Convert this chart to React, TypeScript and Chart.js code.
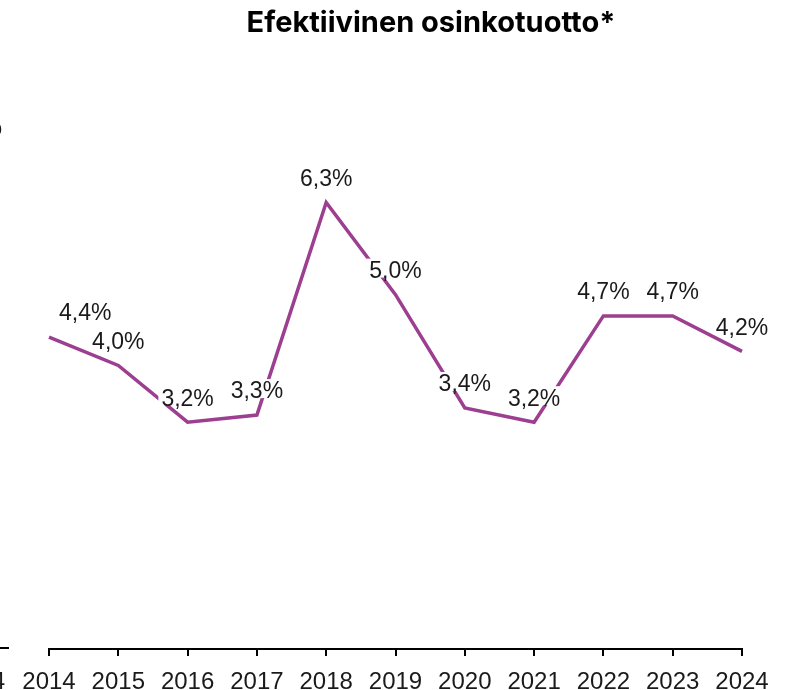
import React, { useEffect, useRef } from "react";
import { Chart, registerables } from "chart.js";

Chart.register(...registerables);

const years = ["2014", "2015", "2016", "2017", "2018", "2019", "2020", "2021", "2022", "2023", "2024"];
const yieldValues = [4.4, 4.0, 3.2, 3.3, 6.3, 5.0, 3.4, 3.2, 4.7, 4.7, 4.2];
const titleText = "Efektiivinen osinkotuotto*";

const LINE_COLOR = "#9c3f90";
const TEXT_COLOR = "#1a1a1a";
const LABEL_FONT = '23px "Liberation Sans", Arial, sans-serif';

const formatPct = (v: number) => v.toFixed(1).replace(".", ",") + "%";

const labelsPlugin = {
  id: "valueLabels",
  afterDatasetsDraw(chart: any) {
    const ctx = chart.ctx;
    const meta = chart.getDatasetMeta(0);
    const area = chart.chartArea;
    ctx.save();
    ctx.font = LABEL_FONT;
    ctx.textBaseline = "middle";
    ctx.textAlign = "center";
    meta.data.forEach((pt: any, i: number) => {
      const txt = formatPct(yieldValues[i]);
      const w = ctx.measureText(txt).width;
      let cx = pt.x;
      const minLeft = area.left + 10;
      if (cx - w / 2 < minLeft) cx = minLeft + w / 2;
      const cy = pt.y - 23;
      ctx.fillStyle = "#ffffff";
      ctx.fillRect(cx - w / 2 - 3, cy - 13, w + 6, 19);
      ctx.fillStyle = TEXT_COLOR;
      ctx.fillText(txt, cx, cy);
    });
    ctx.restore();
  },
};

const decorPlugin = {
  id: "decor",
  afterDraw(chart: any) {
    const ctx = chart.ctx;
    ctx.save();
    ctx.fillStyle = "#000000";
    ctx.font = 'bold 29px Inter, "Liberation Sans", sans-serif';
    ctx.textAlign = "center";
    ctx.textBaseline = "alphabetic";
    ctx.fillText(titleText, 431, 32);
    // fragment of neighbouring chart at the left edge
    ctx.strokeStyle = "#000000";
    ctx.lineWidth = 2;
    ctx.beginPath();
    ctx.moveTo(0, 648);
    ctx.lineTo(9, 648);
    ctx.stroke();
    ctx.fillStyle = TEXT_COLOR;
    ctx.font = '24px "Liberation Sans", Arial, sans-serif';
    ctx.textAlign = "right";
    ctx.textBaseline = "middle";
    ctx.fillText("2024", 5, 682);
    ctx.fillText("%", 2, 128);
    ctx.restore();
  },
};

export default function App() {
  const ref = useRef<HTMLCanvasElement | null>(null);
  useEffect(() => {
    if (!ref.current) return;
    const chart = new Chart(ref.current, {
      type: "line",
      data: {
        labels: years,
        datasets: [
          {
            data: yieldValues,
            borderColor: LINE_COLOR,
            borderWidth: 3.5,
            pointRadius: 0,
            tension: 0,
            fill: false,
          },
        ],
      },
      options: {
        responsive: false,
        animation: false,
        events: [],
        layout: { padding: { left: 49, right: 58, top: 82, bottom: 0 } },
        plugins: {
          legend: { display: false },
          title: { display: false },
          tooltip: { enabled: false },
        },
        scales: {
          x: {
            offset: false,
            grid: {
              display: true,
              drawOnChartArea: false,
              drawTicks: true,
              tickLength: 7,
              color: "#000000",
              lineWidth: 2,
            },
            border: { display: true, color: "#000000", width: 2 },
            ticks: {
              color: TEXT_COLOR,
              font: { family: '"Liberation Sans", Arial, sans-serif', size: 24 },
              padding: 12,
              maxRotation: 0,
              autoSkip: false,
            },
            afterFit: (scale: any) => {
              scale.height = 61;
            },
          },
          y: {
            display: false,
            min: 0,
            max: 8,
          },
        },
      },
      plugins: [labelsPlugin, decorPlugin],
    });
    return () => chart.destroy();
  }, []);
  return (
    <div style={{ position: "fixed", left: 0, top: 0, width: 800, height: 690, overflow: "hidden", background: "#fff" }}>
      <canvas ref={ref} width={800} height={710} style={{ display: "block" }} />
    </div>
  );
}
